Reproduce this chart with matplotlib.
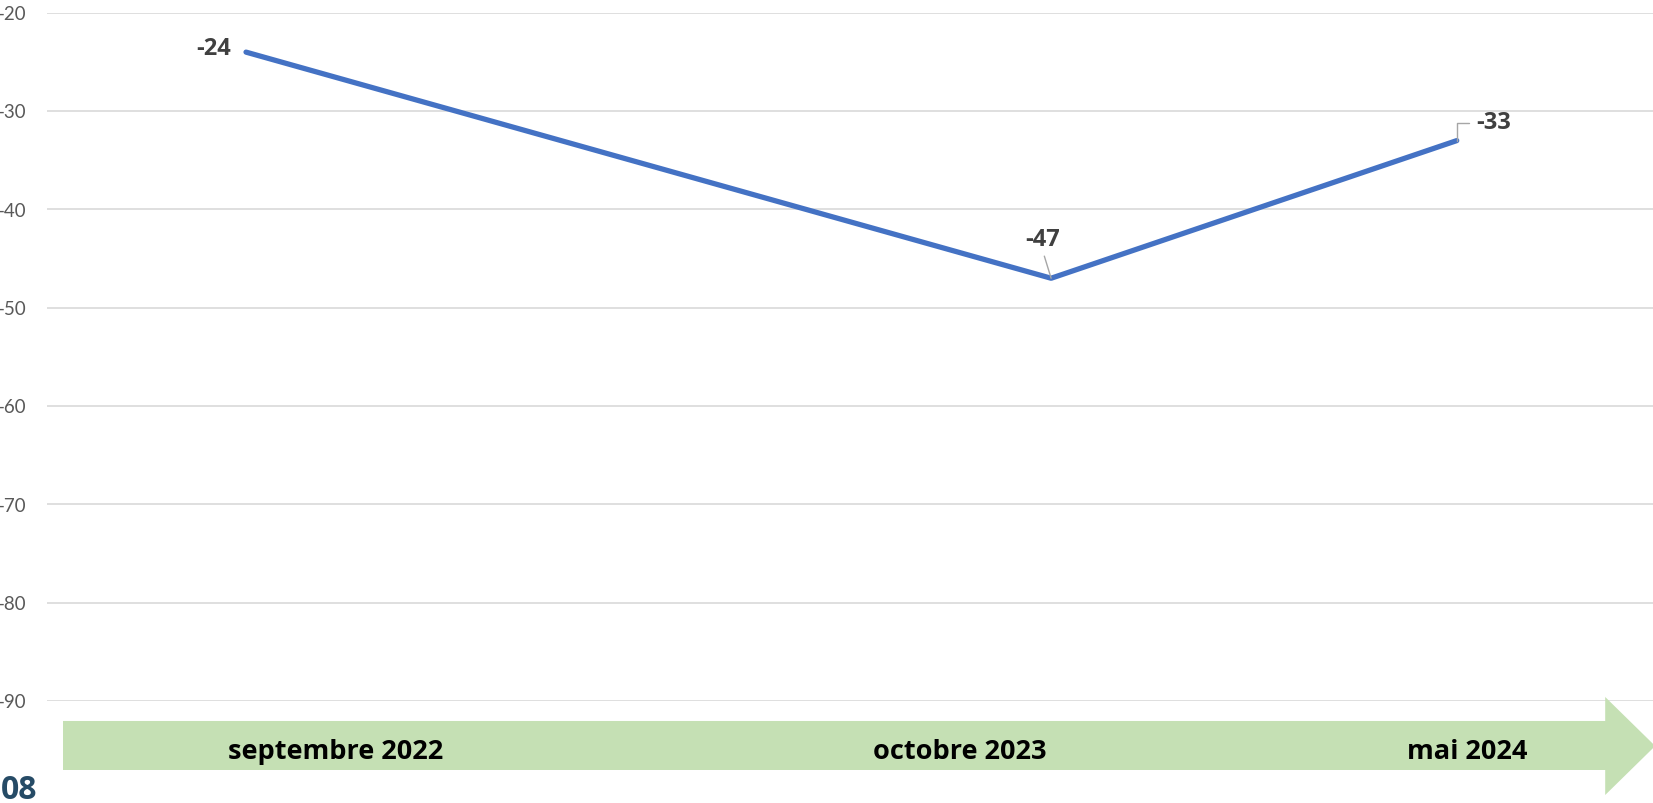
import matplotlib
matplotlib.use("Agg")
import matplotlib.pyplot as plt
import matplotlib.dates as mdates
from matplotlib.patches import Polygon
import datetime as dt

# ---- data ----
dates = [dt.date(2022, 9, 15), dt.date(2023, 10, 15), dt.date(2024, 5, 1)]
values = [-24, -47, -33]
value_labels = ["-24", "-47", "-33"]
category_labels = ["septembre 2022", "octobre 2023", "mai 2024"]
yticks = [-20, -30, -40, -50, -60, -70, -80, -90]
corner_text = "08"

W, H = 1653, 803
fig = plt.figure(figsize=(W / 100 + 0.002, H / 100 + 0.002), dpi=100)
plt.rcParams['font.family'] = ['Lato', 'DejaVu Sans']
BOLD = ['Open Sans', 'DejaVu Sans']

def fx(px):
    return px / W

def fy(py):
    return 1 - py / H

ax_left, ax_right = 47, 1653
ax_top, ax_bottom = 13, 701
ax = fig.add_axes([fx(ax_left), fy(ax_bottom), fx(ax_right - ax_left), (ax_bottom - ax_top) / H])

xd = mdates.date2num(dates)
px_per_day = (1051 - 246) / (xd[1] - xd[0])
ax.set_xlim(xd[0] - (246 - ax_left) / px_per_day, xd[0] + (ax_right - 246) / px_per_day)
ax.set_ylim(-90, -20)

ax.plot(xd, values, color="#4472C4", lw=3.8, solid_capstyle="round", zorder=3)

for y in yticks:
    ax.axhline(y, color="#D9D9D9", lw=1.2, zorder=1)

ax.set_yticks(yticks)
ax.set_yticklabels([str(t) for t in yticks], color="#595959", fontsize=13.5)
ax.tick_params(axis='y', length=0, pad=15)
ax.set_xticks([])
for s in ax.spines.values():
    s.set_visible(False)
ax.patch.set_alpha(0)

lab_kw = dict(fontsize=17, fontweight="bold", family=BOLD, color="#404040",
              textcoords="offset points", zorder=4)
lead = dict(arrowstyle="-", color="#A6A6A6", lw=1.0)

ax.annotate(value_labels[0], xy=(xd[0], values[0]), xytext=(-10.8, 2.5),
            ha="right", va="center", **lab_kw)
ax.annotate(value_labels[1], xy=(xd[1], values[1]), xytext=(-5.8, 27.5),
            ha="center", va="center",
            arrowprops=dict(relpos=(0.5, 0.0), shrinkA=1, shrinkB=0, **lead), **lab_kw)
ax.annotate(value_labels[2], xy=(xd[2], values[2]), xytext=(14.4, 13),
            ha="left", va="center",
            arrowprops=dict(relpos=(0.0, 0.5), shrinkA=3.6, shrinkB=0,
                            connectionstyle="angle,angleA=0,angleB=90,rad=0", **lead), **lab_kw)

# green timeline arrow
pts = [(63, 721), (1605, 721), (1605, 697), (1655, 746), (1605, 795), (1605, 770), (63, 770)]
poly = Polygon([(fx(x), fy(y)) for x, y in pts], closed=True, transform=fig.transFigure,
               facecolor="#C5E0B4", edgecolor="none", zorder=0)
fig.patches.append(poly)

cat_x = [336, 960, 1467]
for x, lab in zip(cat_x, category_labels):
    fig.text(fx(x), fy(759), lab, ha="center", va="baseline", fontsize=19.5,
             fontweight="bold", family=BOLD, color="black")

fig.text(fx(1), fy(799), corner_text, ha="left", va="baseline", fontsize=23,
         fontweight="bold", family=BOLD, color="#264B66")

fig.savefig("out.png", dpi=100)
